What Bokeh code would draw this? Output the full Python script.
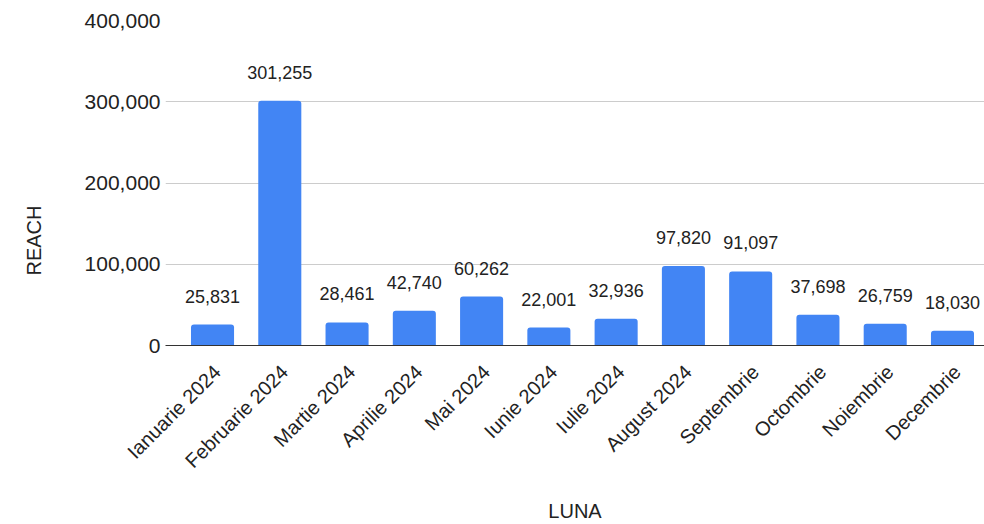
import math
from bokeh.plotting import figure
from bokeh.models import (ColumnDataSource, Range1d, FixedTicker, NumeralTickFormatter,
                          LabelSet, Title)
from bokeh.core.properties import value
from bokeh.embed import file_html
from bokeh.resources import INLINE

months = ["Ianuarie 2024", "Februarie 2024", "Martie 2024", "Aprilie 2024", "Mai 2024",
          "Iunie 2024", "Iulie 2024", "August 2024", "Septembrie", "Octombrie",
          "Noiembrie", "Decembrie"]
reach = [25831, 301255, 28461, 42740, 60262, 22001, 32936, 97820, 91097, 37698, 26759, 18030]
y_ticks = [0, 100000, 200000, 300000, 400000]
x_title = "LUNA"
y_title = "REACH"

FONT = "Liberation Sans"
TXT = "#222222"

xs = list(range(len(months)))
labels_txt = [f"{v:,}" for v in reach]
src = ColumnDataSource(dict(x=xs, top=reach, label=labels_txt))

X0, X1 = -0.699, 11.476
p = figure(width=984, height=524, output_backend="svg", toolbar_location=None,
           x_range=Range1d(X0, X1), y_range=Range1d(0, 400000),
           min_border_left=165, min_border_right=0, min_border_top=20, min_border_bottom=179)
p.outline_line_color = None
p.background_fill_color = "white"
p.border_fill_color = "white"

p.vbar(x="x", top="top", width=0.64, bottom=0, source=src, fill_color="#4285F4",
       line_color=None, border_radius=(3, 3, 0, 0))

# data labels
p.add_layout(LabelSet(x="x", y="top", text="label", source=src, y_offset=22,
                      text_align="center", text_baseline="alphabetic",
                      text_font=value(FONT), text_font_size=value("18px"),
                      text_color=TXT))

# y axis
p.yaxis.ticker = FixedTicker(ticks=y_ticks)
p.yaxis.formatter = NumeralTickFormatter(format="0,0")
p.yaxis.axis_line_color = None
p.yaxis.major_tick_line_color = None
p.yaxis.minor_tick_line_color = None
p.yaxis.major_tick_out = 0
p.yaxis.major_label_standoff = 5
p.yaxis.major_label_text_font = FONT
p.yaxis.major_label_text_font_size = "21px"
p.yaxis.major_label_text_color = TXT
# blank axis label used only as spacing before the REACH title
p.yaxis.axis_label = " "
p.yaxis.axis_label_standoff = 12
p.yaxis.axis_label_text_font = FONT
p.yaxis.axis_label_text_font_size = "20px"
p.ygrid.ticker = FixedTicker(ticks=y_ticks)
p.ygrid.grid_line_color = "#cccccc"
p.xgrid.grid_line_color = None

# x axis
shift = 0.07
tick_pos = [i + shift for i in xs]
p.xaxis.ticker = FixedTicker(ticks=tick_pos)
p.xaxis.major_label_overrides = {t: m for t, m in zip(tick_pos, months)}
p.xaxis.major_label_orientation = math.pi / 4
p.xaxis.axis_line_color = "#333333"
p.xaxis.major_tick_line_color = None
p.xaxis.minor_tick_line_color = None
p.xaxis.major_tick_out = 0
p.xaxis.major_label_standoff = 23
p.xaxis.major_label_text_font = FONT
p.xaxis.major_label_text_font_size = "20px"
p.xaxis.major_label_text_color = TXT
p.xaxis.axis_label = x_title
p.xaxis.axis_label_standoff = 17
p.xaxis.axis_label_text_font = FONT
p.xaxis.axis_label_text_font_size = "20px"
p.xaxis.axis_label_text_font_style = "normal"
p.xaxis.axis_label_text_color = TXT

# y axis title
p.add_layout(Title(text=y_title, align="left", offset=70, vertical_align="bottom",
                   standoff=0, text_font=FONT, text_font_size="20px",
                   text_font_style="normal", text_color=TXT), "left")

open("out.html", "w").write(file_html(p, INLINE))
